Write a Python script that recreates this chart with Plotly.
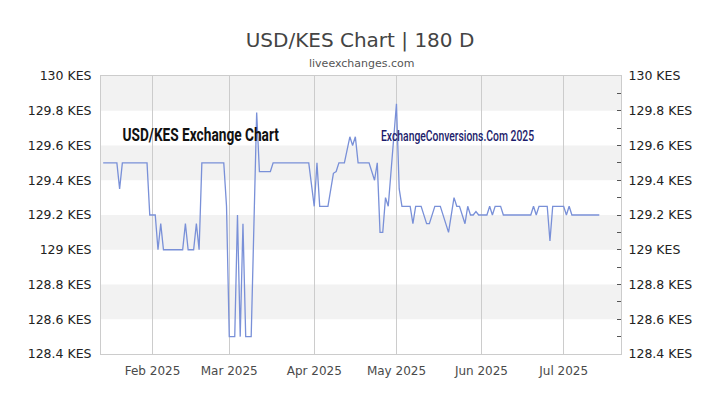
import plotly.graph_objects as go

# daily USD/KES rate (points where the line changes direction)
dates = [
    "2025-01-14", "2025-01-19", "2025-01-20", "2025-01-21", "2025-01-30", "2025-01-31",
    "2025-02-02", "2025-02-03", "2025-02-04", "2025-02-05", "2025-02-12", "2025-02-13",
    "2025-02-14", "2025-02-16", "2025-02-17", "2025-02-18", "2025-02-19", "2025-02-27",
    "2025-02-28", "2025-03-01", "2025-03-03", "2025-03-04", "2025-03-05", "2025-03-06",
    "2025-03-07", "2025-03-09", "2025-03-11", "2025-03-12", "2025-03-16", "2025-03-17",
    "2025-03-30", "2025-04-01", "2025-04-02", "2025-04-03", "2025-04-06", "2025-04-08",
    "2025-04-09", "2025-04-10", "2025-04-12", "2025-04-14", "2025-04-15", "2025-04-16",
    "2025-04-17", "2025-04-21", "2025-04-23", "2025-04-24", "2025-04-25", "2025-04-26",
    "2025-04-27", "2025-04-28", "2025-05-01", "2025-05-02", "2025-05-03", "2025-05-06",
    "2025-05-07", "2025-05-08", "2025-05-10", "2025-05-12", "2025-05-13", "2025-05-15",
    "2025-05-17", "2025-05-20", "2025-05-22", "2025-05-23", "2025-05-24", "2025-05-26",
    "2025-05-27", "2025-05-28", "2025-05-29", "2025-05-30", "2025-05-31", "2025-06-03",
    "2025-06-04", "2025-06-05", "2025-06-06", "2025-06-08", "2025-06-09", "2025-06-19",
    "2025-06-20", "2025-06-21", "2025-06-22", "2025-06-25", "2025-06-26", "2025-06-27",
    "2025-07-01", "2025-07-02", "2025-07-03", "2025-07-04", "2025-07-14",
]
rates = [
    129.5, 129.5, 129.35, 129.5, 129.5, 129.2,
    129.2, 129.0, 129.15, 129.0, 129.0, 129.15,
    129.0, 129.0, 129.15, 129.0, 129.5, 129.5,
    129.25, 128.5, 128.5, 129.2, 128.5, 129.15,
    128.5, 128.5, 129.79, 129.45, 129.45, 129.5,
    129.5, 129.25, 129.5, 129.25, 129.25, 129.44,
    129.45, 129.5, 129.5, 129.65, 129.6, 129.65,
    129.5, 129.5, 129.4, 129.5, 129.1, 129.1,
    129.3, 129.25, 129.84, 129.35, 129.25, 129.25,
    129.15, 129.25, 129.25, 129.15, 129.15, 129.25,
    129.25, 129.1, 129.3, 129.25, 129.25, 129.15,
    129.25, 129.2, 129.2, 129.22, 129.2, 129.2,
    129.25, 129.2, 129.25, 129.25, 129.2, 129.2,
    129.25, 129.2, 129.25, 129.25, 129.05, 129.25,
    129.25, 129.2, 129.25, 129.2, 129.2,
]

month_ticks = ["2025-02-01", "2025-03-01", "2025-04-01", "2025-05-01", "2025-06-01", "2025-07-01"]
month_labels = ["Feb 2025", "Mar 2025", "Apr 2025", "May 2025", "Jun 2025", "Jul 2025"]

y_ticks = [128.4, 128.6, 128.8, 129.0, 129.2, 129.4, 129.6, 129.8, 130.0]
y_labels = [f"{v:g} KES" for v in y_ticks]

font = "DejaVu Sans"

fig = go.Figure()
fig.add_trace(
    go.Scatter(x=dates, y=rates, mode="lines", line=dict(color="#7990d8", width=1.3),
               showlegend=False, hovertemplate="%{x|%d %b %Y}: %{y} KES<extra></extra>")
)
# copy on the right axis so it gets drawn
fig.add_trace(
    go.Scatter(x=dates, y=rates, mode="lines", yaxis="y2", line=dict(width=0),
               opacity=0, showlegend=False, hoverinfo="skip")
)

# alternating grey bands between the y ticks
for i in range(1, len(y_ticks) - 1, 2):
    fig.add_shape(type="rect", xref="paper", yref="y", x0=0, x1=1,
                  y0=y_ticks[i], y1=y_ticks[i + 1], fillcolor="#f2f2f2",
                  line=dict(width=0), layer="below")

fig.update_layout(
    width=720, height=405,
    margin=dict(l=101, r=99, t=76, b=51),
    paper_bgcolor="white", plot_bgcolor="white",
    font=dict(family=font, size=12, color="#222"),
    title=dict(text="USD/KES Chart | 180 D", x=0.5, xanchor="center",
               y=1 - 40 / 405, yref="container", yanchor="middle",
               font=dict(family=font, size=20, color="#444")),
    xaxis=dict(
        type="date", range=["2025-01-13 05:00", "2025-07-21 22:00"],
        tickvals=month_ticks, ticktext=month_labels,
        showgrid=True, gridcolor="#cccccc", gridwidth=1,
        ticks="outside", ticklen=6, tickcolor="rgba(0,0,0,0)",
        tickfont=dict(size=12, color="#4a4a4a"),
        showline=True, linecolor="#cccccc", mirror=True, zeroline=False,
    ),
    yaxis=dict(
        range=[128.4, 130.0], tickvals=y_ticks, ticktext=y_labels,
        showgrid=False, zeroline=False, ticklabelstandoff=6,
        tickfont=dict(size=12.5, color="#222"),
        showline=True, linecolor="#cccccc", mirror=True,
    ),
    yaxis2=dict(
        range=[128.4, 130.0], overlaying="y", side="right",
        tickvals=y_ticks, ticktext=y_labels,
        showgrid=False, zeroline=False,
        ticks="inside", ticklen=4, tickcolor="#555",
        minor=dict(ticks="inside", ticklen=4, tickcolor="#555",
                   tickvals=[128.5, 128.7, 128.9, 129.1, 129.3, 129.5, 129.7, 129.9]),
        ticklabelstandoff=4,
        tickfont=dict(size=12.5, color="#222"),
        showline=True, linecolor="#cccccc",
    ),
)

fig.add_annotation(text="liveexchanges.com", xref="paper", yref="paper",
                   x=0.5, y=1 + 13 / 278, xanchor="center", yanchor="middle", showarrow=False,
                   font=dict(family=font, size=11, color="#555"))
fig.add_annotation(text="USD/KES Exchange Chart", xref="paper", yref="paper",
                   x=0.193, y=0.788, xanchor="center", yanchor="middle", showarrow=False,
                   font=dict(family="Roboto", size=19, weight="bold", color="#111"))
fig.add_annotation(text="ExchangeConversions.Com 2025", xref="paper", yref="paper",
                   x=0.685, y=0.783, xanchor="center", yanchor="middle", showarrow=False,
                   font=dict(family="Roboto", size=14, weight=500, color="#1c1c6b"))

# no page margin, and squeeze the two watermark texts to a condensed look
post = """
document.body.style.margin = '0';
document.querySelectorAll('.annotation-text').forEach(function(t) {
  var s = t.textContent;
  var k = 1;
  if (s.indexOf('Exchange Chart') >= 0) { k = 0.72; }
  if (s.indexOf('Conversions') >= 0) { k = 0.74; }
  if (k < 1) {
    t.style.transformBox = 'fill-box';
    t.style.transformOrigin = 'center';
    t.style.transform = 'scaleX(' + k + ')';
  }
});
"""

fig.write_html("out.html", config={"displayModeBar": False}, post_script=post)
